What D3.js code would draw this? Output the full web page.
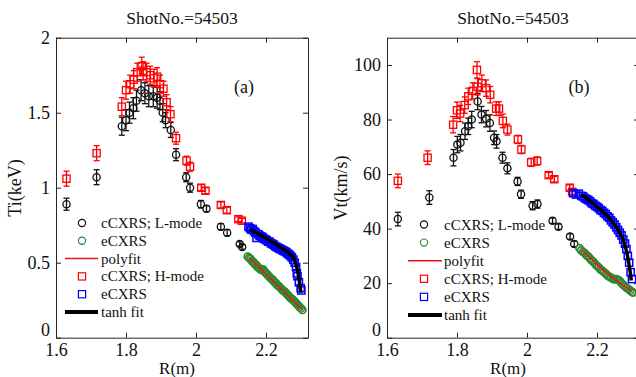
<!DOCTYPE html>
<html>
<head>
<meta charset="utf-8">
<script src="https://cdn.jsdelivr.net/npm/d3@7"></script>
<style>
  body { margin: 0; background: #fff; }
  svg { display: block; font-family: "Liberation Serif", "Times New Roman", serif; }
</style>
</head>
<body>
<div id="chart"></div>
<script>
// ---- data: [R (m), value, error] ----
const rTicks = [1.6, 1.8, 2, 2.2];
const tiTicks = [0, 0.5, 1, 1.5, 2];
const vtTicks = [0, 20, 40, 60, 80, 100];
const legendLabels = ["cCXRS; L-mode", "eCXRS", "polyfit", "cCXRS; H-mode", "eCXRS", "tanh fit"];

// Ti (keV)
const tiCoreL = [
  [1.630, 0.89, 0.04], [1.716, 1.07, 0.05], [1.788, 1.41, 0.06], [1.800, 1.45, 0.07],
  [1.810, 1.50, 0.07], [1.821, 1.53, 0.07], [1.830, 1.58, 0.07], [1.843, 1.65, 0.07],
  [1.854, 1.63, 0.07], [1.865, 1.61, 0.07], [1.878, 1.61, 0.07], [1.889, 1.60, 0.07],
  [1.897, 1.58, 0.06], [1.905, 1.50, 0.06], [1.913, 1.45, 0.05], [1.928, 1.385, 0.05],
  [1.943, 1.22, 0.04], [1.972, 1.07, 0.03], [1.983, 1.00, 0.03], [2.014, 0.89, 0.025],
  [2.030, 0.86, 0.02], [2.071, 0.74, 0.02], [2.089, 0.70, 0.02], [2.125, 0.625, 0.015],
  [2.132, 0.605, 0.015]
];
const tiCoreH = [
  [1.630, 1.06, 0.05], [1.716, 1.23, 0.05], [1.788, 1.54, 0.06], [1.800, 1.65, 0.06],
  [1.812, 1.69, 0.06], [1.822, 1.72, 0.06], [1.832, 1.77, 0.06], [1.845, 1.81, 0.06],
  [1.849, 1.78, 0.06], [1.859, 1.77, 0.06], [1.869, 1.75, 0.06], [1.880, 1.73, 0.06],
  [1.889, 1.74, 0.06], [1.897, 1.69, 0.06], [1.907, 1.66, 0.05], [1.916, 1.57, 0.05],
  [1.927, 1.49, 0.05], [1.943, 1.33, 0.04], [1.973, 1.18, 0.03], [1.983, 1.14, 0.03],
  [2.015, 1.00, 0.02], [2.027, 0.98, 0.02], [2.071, 0.885, 0.02], [2.088, 0.85, 0.02],
  [2.121, 0.79, 0.015], [2.131, 0.78, 0.015]
];
const tiEdgeL = [
  [2.148, 0.54], [2.152, 0.53], [2.156, 0.525], [2.160, 0.51], [2.164, 0.505], [2.168, 0.49],
  [2.172, 0.485], [2.176, 0.47], [2.180, 0.465], [2.184, 0.455], [2.188, 0.45], [2.192, 0.455],
  [2.196, 0.44], [2.200, 0.43], [2.204, 0.42], [2.208, 0.41], [2.212, 0.40], [2.216, 0.39],
  [2.220, 0.385], [2.224, 0.37], [2.228, 0.365], [2.232, 0.35], [2.236, 0.345], [2.240, 0.335],
  [2.244, 0.325], [2.248, 0.315], [2.252, 0.31], [2.256, 0.30], [2.260, 0.29], [2.264, 0.28],
  [2.268, 0.27], [2.272, 0.26], [2.276, 0.255], [2.280, 0.245], [2.284, 0.235], [2.288, 0.225],
  [2.292, 0.215], [2.296, 0.205], [2.300, 0.195], [2.304, 0.185]
];
const tiPolyfit = [[2.150, 0.535], [2.200, 0.425], [2.250, 0.31], [2.305, 0.185]];
const tiEdgeH = [
  [2.150, 0.74], [2.154, 0.73], [2.158, 0.72], [2.162, 0.725], [2.166, 0.71], [2.170, 0.70],
  [2.173, 0.665], [2.178, 0.69], [2.182, 0.68], [2.186, 0.675], [2.190, 0.67], [2.194, 0.66],
  [2.198, 0.655], [2.202, 0.65], [2.206, 0.64], [2.210, 0.64], [2.214, 0.63], [2.218, 0.625],
  [2.222, 0.62], [2.226, 0.61], [2.230, 0.605], [2.234, 0.60], [2.238, 0.595], [2.242, 0.59],
  [2.246, 0.585], [2.250, 0.58], [2.254, 0.575], [2.258, 0.57], [2.262, 0.56], [2.266, 0.555],
  [2.270, 0.545], [2.274, 0.535], [2.278, 0.52], [2.282, 0.50], [2.286, 0.47], [2.288, 0.43],
  [2.290, 0.41], [2.294, 0.37], [2.299, 0.33], [2.301, 0.315]
];
const tiTanh = [
  [2.155, 0.72], [2.180, 0.69], [2.200, 0.665], [2.220, 0.635], [2.240, 0.605], [2.260, 0.575],
  [2.275, 0.545], [2.283, 0.51], [2.290, 0.45], [2.295, 0.38], [2.300, 0.30]
];

// Vt (km/s)
const vtCoreL = [
  [1.631, 43.5, 2.5], [1.721, 51.4, 2.5], [1.790, 66.0, 3], [1.801, 70.8, 3],
  [1.810, 71.5, 3], [1.823, 75.7, 3], [1.832, 77.5, 3], [1.842, 80.0, 3],
  [1.859, 86.6, 3], [1.870, 81.8, 3], [1.883, 80.3, 3], [1.894, 78.7, 3],
  [1.906, 73.3, 2.5], [1.913, 72.0, 2.5], [1.930, 66.0, 2], [1.944, 62.1, 2],
  [1.973, 57.3, 1.5], [1.983, 52.6, 1.5], [2.016, 48.4, 1.5], [2.030, 49.0, 1.5],
  [2.073, 42.9, 1], [2.090, 40.7, 1], [2.123, 37.1, 1], [2.135, 34.4, 1]
];
const vtCoreH = [
  [1.631, 57.5, 2.5], [1.716, 66.0, 2.5], [1.789, 78.1, 3], [1.800, 83.4, 3],
  [1.809, 82.2, 3], [1.822, 85.3, 3], [1.832, 88.5, 3], [1.845, 90.5, 3],
  [1.857, 98.2, 3], [1.859, 92.0, 3], [1.871, 93.3, 3], [1.883, 91.5, 3],
  [1.895, 89.1, 3], [1.912, 84.0, 2.5], [1.920, 84.0, 2.5], [1.931, 79.5, 2.5],
  [1.944, 76.3, 2], [1.974, 72.7, 1.5], [1.984, 69.0, 1.5], [2.012, 64.3, 1.5],
  [2.029, 64.8, 1.5], [2.062, 59.6, 1], [2.078, 58.1, 1], [2.122, 55.0, 1],
  [2.129, 53.5, 1]
];
const vtEdgeL = [
  [2.150, 32.8], [2.155, 32.0], [2.160, 31.5], [2.165, 31.0], [2.170, 30.2], [2.175, 29.8],
  [2.180, 29.0], [2.185, 28.3], [2.190, 27.8], [2.195, 27.0], [2.200, 26.3], [2.205, 25.8],
  [2.210, 25.0], [2.215, 24.6], [2.220, 24.0], [2.225, 23.5], [2.230, 22.8], [2.235, 22.4],
  [2.240, 22.0], [2.245, 21.6], [2.250, 21.4], [2.255, 21.5], [2.260, 21.2], [2.265, 20.8],
  [2.270, 20.0], [2.275, 19.4], [2.280, 18.8], [2.285, 18.3], [2.290, 17.8], [2.295, 17.3],
  [2.300, 16.8], [2.303, 16.5]
];
const vtPolyfit = [
  [2.155, 32.2], [2.180, 29.3], [2.200, 26.8], [2.220, 24.5], [2.240, 22.5], [2.260, 20.6],
  [2.280, 18.8], [2.300, 17.0]
];
const vtEdgeH = [
  [2.132, 53.0], [2.140, 52.5], [2.148, 52.8], [2.155, 52.0], [2.160, 51.8], [2.165, 51.2],
  [2.170, 50.8], [2.175, 50.5], [2.180, 50.0], [2.185, 49.3], [2.190, 49.0], [2.195, 48.4],
  [2.200, 48.0], [2.205, 47.5], [2.210, 46.8], [2.215, 46.5], [2.220, 45.8], [2.225, 45.3],
  [2.230, 44.5], [2.235, 44.0], [2.240, 43.0], [2.245, 42.3], [2.250, 41.5], [2.255, 40.5],
  [2.260, 39.5], [2.265, 38.5], [2.270, 37.5], [2.275, 36.0], [2.280, 34.5], [2.284, 32.5],
  [2.288, 30.0], [2.292, 27.5], [2.296, 24.0], [2.300, 21.5]
];
const vtTanh = [
  [2.155, 52.5], [2.180, 50.2], [2.200, 48.0], [2.220, 45.8], [2.240, 43.2], [2.260, 39.8],
  [2.275, 36.0], [2.285, 31.5], [2.290, 28.0], [2.295, 24.0], [2.298, 21.0]
];

// ---- drawing ----
const width = 636, height = 377;
const plotTop = 37.7, plotBottom = 337.7, plotWidth = 252;
const axisColor = "#262626";
const green = "#2f8a2f";

const svg = d3.select("#chart").append("svg")
  .attr("width", width)
  .attr("height", height);

function drawPanel(p) {
  const x = d3.scaleLinear().domain([1.6, 2.32]).range([p.left, p.left + plotWidth]);
  const y = d3.scaleLinear().domain(p.yDomain).range([plotBottom, plotTop]);
  const g = svg.append("g");

  // axes, MATLAB style box with inward ticks
  const bottom = g.append("g").attr("transform", `translate(0,${plotBottom})`)
    .call(d3.axisBottom(x).tickValues(rTicks).tickFormat(d3.format("")).tickSize(-5).tickSizeOuter(0).tickPadding(5.5));
  const left = g.append("g").attr("transform", `translate(${p.left},0)`)
    .call(d3.axisLeft(y).tickValues(p.yTicks).tickFormat(d3.format("")).tickSize(-5).tickSizeOuter(0).tickPadding(6));
  g.append("g").attr("transform", `translate(0,${plotTop})`)
    .call(d3.axisTop(x).tickValues(rTicks).tickFormat("").tickSize(-5).tickSizeOuter(0));
  g.append("g").attr("transform", `translate(${p.left + plotWidth},0)`)
    .call(d3.axisRight(y).tickValues(p.yTicks).tickFormat("").tickSize(-5).tickSizeOuter(0));
  g.selectAll(".domain, .tick line").attr("stroke", axisColor);
  g.selectAll("g").attr("font-family", null).attr("font-size", null);
  bottom.selectAll("text").attr("font-size", 18).attr("fill", "#111");
  left.selectAll("text").attr("font-size", 18).attr("fill", "#111");
  // the "0" label sits a touch high so it clears the first R label
  left.selectAll(".tick").filter(d => d === 0).select("text").attr("dy", "-0.15em");

  // titles and labels
  g.append("text").attr("x", p.left + plotWidth / 2).attr("y", 24)
    .attr("text-anchor", "middle").attr("font-size", 17.5).attr("fill", "#111")
    .text("ShotNo.=54503");
  g.append("text").attr("x", p.left + plotWidth / 2 - 5).attr("y", 373.5)
    .attr("text-anchor", "middle").attr("font-size", 17).attr("fill", "#111")
    .text("R(m)");
  g.append("text").attr("transform", `translate(${p.yLabelX},188) rotate(-90)`)
    .attr("text-anchor", "middle").attr("font-size", 18).attr("fill", "#111")
    .text(p.yLabel);
  g.append("text").attr("x", p.tagX).attr("y", 93)
    .attr("text-anchor", "middle").attr("font-size", 18).attr("fill", "#111")
    .text(p.tag);

  const line = d3.line().x(d => x(d[0])).y(d => y(d[1]));

  function errorBars(data, color) {
    const eb = g.append("g").attr("stroke", color).attr("stroke-width", 1.3);
    data.forEach(d => {
      const cx = x(d[0]), y0 = y(d[1] - d[2]), y1 = y(d[1] + d[2]);
      eb.append("line").attr("x1", cx).attr("x2", cx).attr("y1", y0).attr("y2", y1);
      eb.append("line").attr("x1", cx - 3).attr("x2", cx + 3).attr("y1", y0).attr("y2", y0);
      eb.append("line").attr("x1", cx - 3).attr("x2", cx + 3).attr("y1", y1).attr("y2", y1);
    });
  }
  function circles(data, color, sw) {
    g.append("g").selectAll("circle").data(data).join("circle")
      .attr("cx", d => x(d[0])).attr("cy", d => y(d[1])).attr("r", 3.6)
      .attr("fill", "none").attr("stroke", color).attr("stroke-width", sw);
  }
  function squares(data, color, sw) {
    g.append("g").selectAll("rect").data(data).join("rect")
      .attr("x", d => x(d[0]) - 3.6).attr("y", d => y(d[1]) - 3.6)
      .attr("width", 7.2).attr("height", 7.2)
      .attr("fill", "none").attr("stroke", color).attr("stroke-width", sw);
  }

  errorBars(p.coreL, "#111");
  circles(p.coreL, "#111", 1.3);
  circles(p.edgeL, green, 1.6);
  g.append("path").datum(p.polyfit).attr("d", line)
    .attr("fill", "none").attr("stroke", "#e8141a").attr("stroke-width", 1.5);
  errorBars(p.coreH, "#ff0000");
  squares(p.coreH, "#ff0000", 1.3);
  squares(p.edgeH, "#0000ff", 1.5);
  g.append("path").datum(p.tanh).attr("d", line)
    .attr("fill", "none").attr("stroke", "#000").attr("stroke-width", 3.5);

  // legend
  const lg = g.append("g");
  legendLabels.forEach((label, i) => {
    const ly = p.legY + i * p.legStep;
    if (i === 0 || i === 1) {
      lg.append("circle").attr("cx", p.legMark).attr("cy", ly).attr("r", 3.6)
        .attr("fill", "none").attr("stroke", i === 0 ? "#111" : green).attr("stroke-width", 1.2);
    } else if (i === 3 || i === 4) {
      lg.append("rect").attr("x", p.legMark - 3.6).attr("y", ly - 3.6).attr("width", 7.2).attr("height", 7.2)
        .attr("fill", "none").attr("stroke", i === 3 ? "#ff0000" : "#0000ff").attr("stroke-width", 1.2);
    } else {
      lg.append("line").attr("x1", p.legLine[0]).attr("x2", p.legLine[1]).attr("y1", ly).attr("y2", ly)
        .attr("stroke", i === 2 ? "#e8141a" : "#000").attr("stroke-width", i === 2 ? 1.5 : 4);
    }
    lg.append("text").attr("x", p.legText).attr("y", ly + 5)
      .attr("font-size", 15).attr("fill", "#111").text(label);
  });
}

drawPanel({
  left: 56, yDomain: [0, 2], yTicks: tiTicks, yLabel: "Ti(keV)", yLabelX: 21,
  tag: "(a)", tagX: 244,
  coreL: tiCoreL, coreH: tiCoreH, edgeL: tiEdgeL, edgeH: tiEdgeH, polyfit: tiPolyfit, tanh: tiTanh,
  legY: 223, legStep: 17.8, legMark: 82, legLine: [65, 98], legText: 101
});
drawPanel({
  left: 387, yDomain: [0, 110], yTicks: vtTicks, yLabel: "Vt(km/s)", yLabelX: 347,
  tag: "(b)", tagX: 579,
  coreL: vtCoreL, coreH: vtCoreH, edgeL: vtEdgeL, edgeH: vtEdgeH, polyfit: vtPolyfit, tanh: vtTanh,
  legY: 224.5, legStep: 18.1, legMark: 424, legLine: [408, 442], legText: 444
});
</script>
</body>
</html>
